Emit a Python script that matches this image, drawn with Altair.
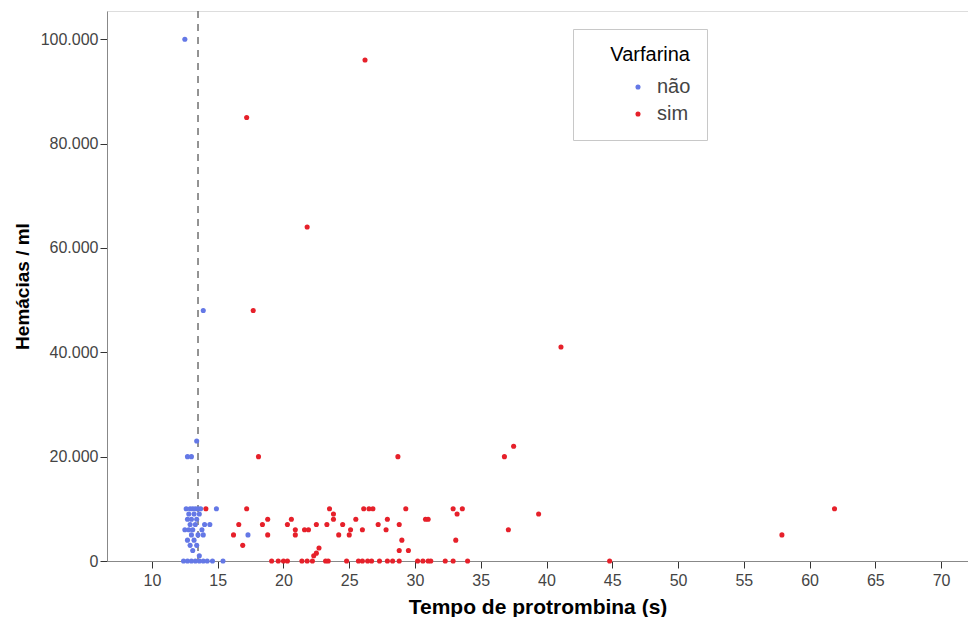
import altair as alt
import pandas as pd

# Varfarina = não (blue)
nao_x = [12.5, 13.9, 13.4, 12.7, 13.0,
         12.6, 12.9, 13.1, 13.3, 13.5, 13.7, 14.9,
         12.8, 13.2, 13.6,
         12.7, 13.0, 13.4,
         12.9, 13.3, 14.0, 14.4,
         12.5, 12.8, 13.1, 13.8,
         13.0, 13.5, 13.9, 17.3,
         12.7, 13.2,
         12.9, 13.4,
         13.1, 13.6,
         12.4, 12.7, 13.0, 13.3, 13.6, 13.9, 14.2, 14.6, 15.4]
nao_y = [100000, 48000, 23000, 20000, 20000,
         10000, 10000, 10000, 10000, 10000, 10000, 10000,
         9000, 9000, 9000,
         8000, 8000, 8000,
         7000, 7000, 7000, 7000,
         6000, 6000, 6000, 6000,
         5000, 5000, 5000, 5000,
         4000, 4000,
         3000, 3000,
         2000, 1000,
         0, 0, 0, 0, 0, 0, 0, 0, 0]

# Varfarina = sim (red)
sim_x = [17.2, 26.2, 21.8, 17.7, 41.1, 18.1, 28.7, 36.8, 37.5, 39.4, 37.1, 44.8, 57.9, 61.9,
         14.1, 17.2, 16.6, 16.2, 16.9,
         18.8, 18.4, 18.8,
         20.6, 20.3, 20.9, 20.9,
         21.6, 21.9, 22.5, 23.3, 23.5, 23.8, 23.8,
         24.5, 24.2, 25.0, 25.1, 25.5, 26.0,
         26.1, 26.5, 26.8, 27.2, 27.9, 27.8,
         29.3, 28.8, 29.0, 28.8, 29.5,
         30.8, 31.0, 32.9, 33.6, 33.2, 33.1,
         22.3, 22.5, 22.7,
         19.1, 19.6, 20.0, 20.3, 21.4, 21.8, 22.2, 23.2, 23.4, 24.8, 25.7, 26.0, 26.4,
         26.7, 27.3, 27.9, 28.3, 28.8, 30.2, 30.6, 31.0, 31.2, 32.3, 32.9, 34.0]
sim_y = [85000, 96000, 64000, 48000, 41000, 20000, 20000, 20000, 22000, 9000, 6000, 0, 5000, 10000,
         10000, 10000, 7000, 5000, 3000,
         8000, 7000, 5000,
         8000, 7000, 6000, 5000,
         6000, 6000, 7000, 7000, 10000, 9000, 8000,
         7000, 5000, 5000, 6000, 8000, 6000,
         10000, 10000, 10000, 7000, 8000, 6000,
         10000, 7000, 4000, 2000, 2000,
         8000, 8000, 10000, 10000, 9000, 4000,
         1000, 1500, 2500,
         0, 0, 0, 0, 0, 0, 0, 0, 0, 0, 0, 0, 0,
         0, 0, 0, 0, 0, 0, 0, 0, 0, 0, 0, 0]

ref_line_x = [13.5]
groups = ["não", "sim"]
x_ticks = [10, 15, 20, 25, 30, 35, 40, 45, 50, 55, 60, 65, 70]
y_ticks = [0, 20000, 40000, 60000, 80000, 100000]

df = pd.DataFrame({
    "tempo": nao_x + sim_x,
    "hem": nao_y + sim_y,
    "Varfarina": ["não"] * len(nao_x) + ["sim"] * len(sim_x),
})
ref = pd.DataFrame({"x": ref_line_x})

FONT = "Liberation Sans"

xscale = alt.Scale(domain=[6.58, 72.05], nice=False, zero=False)
yscale = alt.Scale(domain=[0, 105400], nice=False)

points = alt.Chart(df).mark_circle(size=26, opacity=1).encode(
    x=alt.X("tempo:Q", scale=xscale,
            axis=alt.Axis(title="Tempo de protrombina (s)", values=x_ticks, grid=False,
                          labelFontSize=16, labelColor="#444", labelFont=FONT,
                          titleFont=FONT, titleFontSize=21, titleFontWeight="bold",
                          titleColor="#000", domainColor="#888", tickColor="#333",
                          tickSize=7, labelPadding=4, titlePadding=8)),
    y=alt.Y("hem:Q", scale=yscale,
            axis=alt.Axis(title="Hemácias / ml", values=y_ticks, grid=False,
                          labelExpr="replace(format(datum.value, ','), ',', '.')",
                          labelFontSize=16, labelColor="#444", labelFont=FONT,
                          titleFont=FONT, titleFontSize=19, titleFontWeight="bold",
                          titleColor="#000", domainColor="#888", tickColor="#333",
                          tickSize=7, labelPadding=2, titlePadding=8)),
    color=alt.Color("Varfarina:N",
                    scale=alt.Scale(domain=groups, range=["#6478e6", "#e6202a"]),
                    legend=alt.Legend(orient="none", legendX=466, legendY=18,
                                      title="Varfarina", titleFontSize=20,
                                      titleFontWeight="normal", titleFont=FONT,
                                      titleColor="#000", titleAnchor="end",
                                      titlePadding=12,
                                      labelFontSize=20, labelFont=FONT, labelColor="#444",
                                      symbolType="circle", symbolSize=26,
                                      symbolOffset=39, labelOffset=9, rowPadding=7,
                                      padding=16, strokeColor="#c8c8c8",
                                      fillColor="#ffffff")),
)

rule = alt.Chart(ref).mark_rule(strokeDash=[7, 6], color="#707070", strokeWidth=1.5).encode(
    x=alt.X("x:Q", scale=xscale)
)

chart = alt.layer(rule, points).properties(
    width=861, height=550,
    padding={"left": 5, "top": 2, "right": 0, "bottom": 0},
).configure_view(stroke=None).configure(font=FONT)

chart.save("out.html", embed_options={"renderer": "svg", "actions": False})
